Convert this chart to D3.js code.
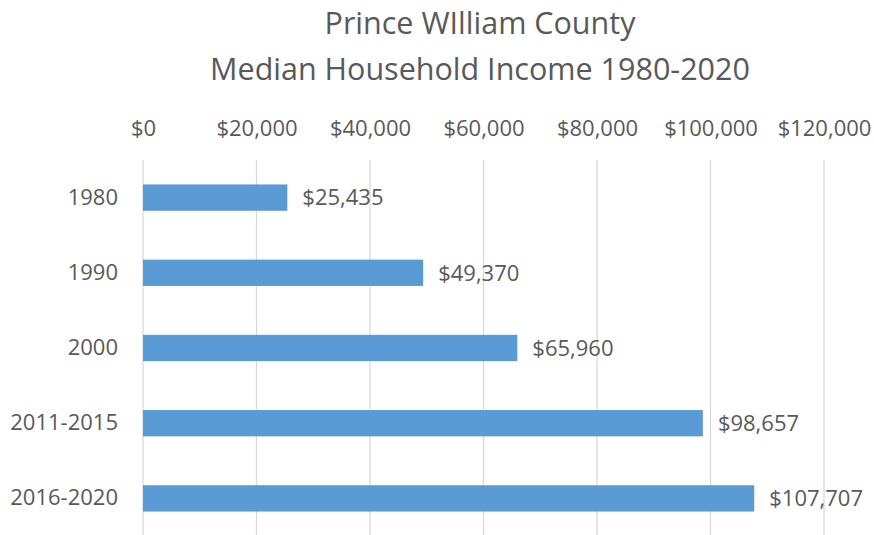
<!DOCTYPE html>
<html>
<head>
<meta charset="utf-8">
<script src="https://cdn.jsdelivr.net/npm/d3@7"></script>
<style>
  html, body { margin: 0; padding: 0; background: #fff; }
  svg { display: block; font-family: "Open Sans", "Noto Sans", sans-serif; }
</style>
</head>
<body>
<svg id="chart" width="874" height="535"></svg>
<script>
// Median household income by period
const categories = ["1980", "1990", "2000", "2011-2015", "2016-2020"];
const incomes = [25435, 49370, 65960, 98657, 107707];
const tickValues = [0, 20000, 40000, 60000, 80000, 100000, 120000];
const titleLines = ["Prince WIlliam County", "Median Household Income 1980-2020"];

const width = 874, height = 535;
const margin = { top: 160, right: 50, bottom: -1, left: 143 };
const svg = d3.select("#chart");

const x = d3.scaleLinear()
  .domain([0, 120000])
  .range([margin.left, 824]);

const y = d3.scaleBand()
  .domain(categories)
  .range([margin.top, height - margin.bottom])
  .paddingInner(0.65)
  .paddingOuter(0.325);

const money = d3.format("$,");
const textColor = "#595959";

// Title
svg.append("g")
  .selectAll("text")
  .data(titleLines)
  .join("text")
  .attr("x", 480)
  .attr("y", (d, i) => 34 + i * 46)
  .attr("text-anchor", "middle")
  .attr("font-size", 30.5)
  .attr("fill", textColor)
  .text(d => d);

// Vertical gridlines
svg.append("g")
  .selectAll("line")
  .data(tickValues)
  .join("line")
  .attr("x1", d => x(d))
  .attr("x2", d => x(d))
  .attr("y1", margin.top)
  .attr("y2", height)
  .attr("stroke", "#d9d9d9")
  .attr("stroke-width", 1.3);

// Top axis labels
const xAxis = d3.axisTop(x)
  .tickValues(tickValues)
  .tickFormat(money)
  .tickSize(0)
  .tickPadding(0);

const gx = svg.append("g")
  .attr("transform", "translate(0,136)")
  .call(xAxis);
gx.select(".domain").remove();
gx.selectAll("text")
  .attr("font-size", 22)
  .attr("font-family", "Open Sans, Noto Sans, sans-serif")
  .attr("fill", textColor);

// Category labels
const yAxis = d3.axisLeft(y).tickSize(0).tickPadding(25);
const gy = svg.append("g")
  .attr("transform", `translate(${margin.left},0)`)
  .call(yAxis);
gy.select(".domain").remove();
gy.selectAll("text")
  .attr("font-size", 22)
  .attr("font-family", "Open Sans, Noto Sans, sans-serif")
  .attr("fill", textColor);

// Bars
svg.append("g")
  .selectAll("rect")
  .data(categories)
  .join("rect")
  .attr("x", x(0))
  .attr("y", d => y(d))
  .attr("width", (d, i) => x(incomes[i]) - x(0))
  .attr("height", y.bandwidth())
  .attr("fill", "#5b9bd5");

// Value labels
svg.append("g")
  .selectAll("text")
  .data(categories)
  .join("text")
  .attr("x", (d, i) => x(incomes[i]) + 15)
  .attr("y", d => y(d) + y.bandwidth() / 2)
  .attr("dy", "0.35em")
  .attr("font-size", 22)
  .attr("fill", textColor)
  .text((d, i) => money(incomes[i]));
</script>
</body>
</html>
